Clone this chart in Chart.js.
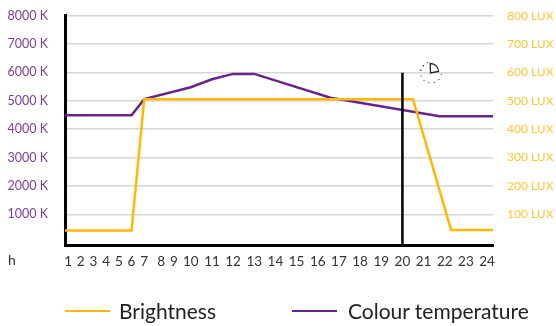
<!DOCTYPE html>
<html>
<head>
<meta charset="utf-8">
<style>
    html, body { margin: 0; background: #fff; }
    #wrap { position: relative; width: 556px; height: 326px; overflow: hidden; }
    #legend { position: absolute; left: 65px; top: 299px; display: flex; font: 21px Lato, sans-serif; color: #222; line-height: 24px; }
    #legend div { display: flex; align-items: center; }
    #legend i { display: block; width: 45px; height: 2.5px; margin-right: 9px; }
    #legend div + div { position: absolute; left: 227px; white-space: nowrap; }
    #legend div + div i { margin-right: 11px; }
</style>
</head>
<body>
<div id="wrap">
    <canvas id="chart"></canvas>
    <div id="legend"></div>
</div>
<script src="https://cdn.jsdelivr.net/npm/chart.js@4"></script>
<script>
const hourLabels = [1, 2, 3, 4, 5, 6, 7, 8, 9, 10, 11, 12, 13, 14, 15, 16, 17, 18, 19, 20, 21, 22, 23, 24];
// the printed hours are not evenly spaced, relative gap after each one
const hourGaps = [3, 3, 3, 3, 3, 3, 4, 3, 4, 5, 5, 5, 5, 5, 5, 5, 5, 5, 5, 5, 5, 5, 5];

const kelvinTicks = [1000, 2000, 3000, 4000, 5000, 6000, 7000, 8000];
const luxTicks = [100, 200, 300, 400, 500, 600, 700, 800];

const brightnessHours = [0.76, 6, 7, 20.5, 22.3, 24.28];
const brightnessLux = [43, 43, 506, 506, 45, 45];

const colourHours = [0.76, 6, 7, 10, 11, 12, 13, 16.6, 21.75, 24.28];
const colourKelvin = [4490, 4490, 5060, 5480, 5760, 5950, 5950, 5110, 4460, 4460];

const nowHour = [20, 20];
const nowKelvin = [-90, 5990];

const purple = '#68268a';
const yellow = '#ffb900';

const zip = (xs, ys) => xs.map((x, i) => ({ x, y: ys[i] }));

// linear scale that follows the uneven spacing of the hour labels
class HourScale extends Chart.LinearScale {
    static id = 'hours';
    static defaults = Chart.LinearScale.defaults;

    units(value) {
        const first = hourLabels[0];
        if (value < first) return (value - first) * hourGaps[0];
        let total = 0;
        for (let i = 0; i < hourGaps.length; i++) {
            const step = Math.min(value - hourLabels[i], 1);
            total += step * hourGaps[i];
            if (step < 1) return total;
        }
        return total + (value - hourLabels[hourLabels.length - 1]) * hourGaps[hourGaps.length - 1];
    }

    getPixelForValue(value) {
        const start = this.units(this.min);
        const end = this.units(this.max);
        return this.getPixelForDecimal((this.units(value) - start) / (end - start));
    }
}
Chart.register(HourScale);

const extras = {
    id: 'extras',
    afterDraw(chart) {
        const ctx = chart.ctx;
        ctx.save();
        // axis name for the hours
        ctx.font = '14px Lato';
        ctx.fillStyle = '#333';
        ctx.textBaseline = 'middle';
        ctx.fillText('h', 8, 260);

        // little clock next to the marker line
        const cx = 431, cy = 72.5;
        ctx.fillStyle = '#222';
        for (let i = 0; i < 12; i++) {
            const a = i * Math.PI / 6;
            if (i >= 9 && i <= 11) continue;
            ctx.fillRect(cx + Math.cos(a + 0.2) * 10.5 - 0.5, cy + Math.sin(a + 0.2) * 10.5 - 0.5, 1, 1);
        }
        ctx.fillRect(cx - 10.5, cy - 3, 1, 1);
        ctx.fillRect(cx - 8, cy - 7, 1, 1);
        ctx.strokeStyle = '#222';
        ctx.lineWidth = 1.3;
        ctx.beginPath();
        ctx.moveTo(cx - 0.5, cy + 0.5);
        ctx.lineTo(cx - 0.8, cy - 9);
        ctx.arc(cx - 0.5, cy - 1, 8, -Math.PI / 2, 0);
        ctx.closePath();
        ctx.stroke();
        ctx.restore();
    }
};

// tick padding should not push the plot area down
const fitAxis = width => scale => {
    scale.width = width;
    scale.paddingTop = 0;
    scale.paddingBottom = 0;
};

const chart = new Chart(document.getElementById('chart'), {
    type: 'line',
    data: {
        datasets: [
            {
                label: 'Brightness',
                data: zip(brightnessHours, brightnessLux),
                yAxisID: 'lux',
                borderColor: yellow,
                backgroundColor: yellow
            },
            {
                label: 'Colour temperature',
                data: zip(colourHours, colourKelvin),
                yAxisID: 'kelvin',
                borderColor: purple,
                backgroundColor: purple
            },
            {
                label: 'Now',
                data: zip(nowHour, nowKelvin),
                yAxisID: 'kelvin',
                borderColor: '#000',
                order: -1
            }
        ]
    },
    options: {
        responsive: true,
        maintainAspectRatio: false,
        animation: false,
        elements: {
            point: { radius: 0 },
            line: { tension: 0, borderWidth: 2.5, borderCapStyle: 'butt' }
        },
        layout: { padding: { top: 15.7, bottom: 0 } },
        plugins: {
            legend: { display: false },
            tooltip: { enabled: false }
        },
        scales: {
            x: {
                type: 'hours',
                min: 0.76,
                max: 24.28,
                grid: { display: false },
                border: { color: '#000', width: 3 },
                afterBuildTicks: scale => { scale.ticks = hourLabels.map(value => ({ value })); },
                afterFit: scale => { scale.height = 80.7; },
                ticks: {
                    autoSkip: false,
                    maxRotation: 0,
                    padding: 0,
                    color: '#333',
                    font: { family: 'Lato', size: 13.5 },
                    callback: value => String(value)
                }
            },
            kelvin: {
                position: 'left',
                min: -90,
                max: 8000,
                grid: { color: '#d6d6d6', lineWidth: 1.5, drawTicks: false },
                border: { color: '#000', width: 3 },
                afterBuildTicks: scale => { scale.ticks = kelvinTicks.map(value => ({ value })); },
                afterFit: fitAxis(65),
                ticks: {
                    padding: 17,
                    color: '#7b3f98',
                    font: { family: 'Lato', size: 12.5 },
                    callback: value => value + ' K'
                }
            },
            lux: {
                position: 'right',
                min: -9,
                max: 800,
                grid: { display: false, drawTicks: false },
                border: { display: false },
                afterBuildTicks: scale => { scale.ticks = luxTicks.map(value => ({ value })); },
                afterFit: fitAxis(63),
                ticks: {
                    padding: 14,
                    color: '#ffc533',
                    font: { family: 'Lato', size: 12 },
                    callback: value => value + ' LUX'
                }
            }
        }
    },
    plugins: [extras]
});

// legend sits in the page so the two entries can keep their wide gap
document.getElementById('legend').innerHTML = chart.data.datasets.slice(0, 2).map(ds => `
    <div><i style="background:${ds.borderColor}"></i><span>${ds.label}</span></div>
`).join('');
</script>
</body>
</html>
